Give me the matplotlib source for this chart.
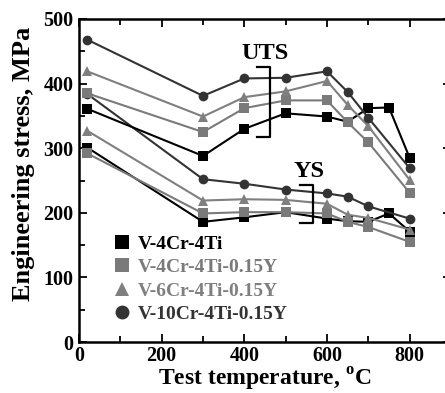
import matplotlib
matplotlib.use('Agg')
import matplotlib.pyplot as plt
from matplotlib.lines import Line2D
from matplotlib.ticker import MultipleLocator

plt.rcParams['font.family'] = 'Liberation Serif'
plt.rcParams['font.weight'] = 'bold'
plt.rcParams['axes.labelweight'] = 'bold'
plt.rcParams['mathtext.fontset'] = 'custom'
plt.rcParams['mathtext.rm'] = 'Liberation Serif:bold'
plt.rcParams['mathtext.bf'] = 'Liberation Serif:bold'

# alloys and their styles
alloys = ['V-4Cr-4Ti', 'V-4Cr-4Ti-0.15Y', 'V-6Cr-4Ti-0.15Y', 'V-10Cr-4Ti-0.15Y']
colors = ['#000000', '#7a7a7a', '#7f7f7f', '#333333']
markers = ['s', 's', '^', 'o']

# test temperatures (C)
temp_a = [20, 300, 400, 500, 600, 650, 700, 750, 800]   # V-4Cr-4Ti
temp_b = [20, 300, 400, 500, 600, 650, 700, 800]        # Y-doped alloys

# ultimate tensile strength, MPa
uts_4cr = [361, 288, 330, 354, 349, 341, 362, 363, 285]
uts_4cr_y = [385, 325, 362, 374, 374, 340, 309, 231]
uts_6cr_y = [419, 349, 379, 388, 404, 367, 334, 251]
uts_10cr_y = [468, 381, 408, 409, 419, 387, 347, 269]

# yield strength, MPa
ys_4cr = [301, 186, 193, 201, 191, 187, 186, 199, 171]
ys_4cr_y = [292, 199, 201, 201, 199, 186, 178, 155]
ys_6cr_y = [327, 219, 221, 220, 214, 197, 192, 174]
ys_10cr_y = [384, 252, 245, 236, 230, 225, 210, 191]

uts = [uts_4cr, uts_4cr_y, uts_6cr_y, uts_10cr_y]
ys = [ys_4cr, ys_4cr_y, ys_6cr_y, ys_10cr_y]
temps = [temp_a, temp_b, temp_b, temp_b]

fig = plt.figure(figsize=(4.45, 3.93), dpi=100)
ax = fig.add_axes([79 / 445, 51 / 393, 372 / 445, 323 / 393])

# draw the lower (YS) set first, then UTS
for group in (ys, uts):
    for i in range(4):
        ax.plot(temps[i], group[i], color=colors[i], marker=markers[i],
                markersize=7.5 if markers[i] != 'o' else 7, lw=1.5,
                markeredgewidth=0)

# brackets and labels
ax.plot([430, 461, 461, 430], [425, 425, 318, 318], color='black', lw=1.6)
ax.text(449, 447, 'UTS', ha='center', va='center', fontsize=17.5)
ax.plot([534, 565, 565, 534], [243, 243, 184, 184], color='black', lw=1.6)
ax.text(556, 264, 'YS', ha='center', va='center', fontsize=17.5)

ax.set_xlim(0, 900)
ax.set_ylim(0, 500)
ax.set_xticks([0, 200, 400, 600, 800])
ax.xaxis.set_minor_locator(MultipleLocator(100))
ax.yaxis.set_major_locator(MultipleLocator(100))
ax.yaxis.set_minor_locator(MultipleLocator(50))
ax.tick_params(which='both', direction='in', top=True, right=True,
               labelsize=14.5, width=1.3, pad=4)
ax.tick_params(axis='x', pad=3)
ax.tick_params(which='major', length=6)
ax.tick_params(which='minor', length=4)
for s in ax.spines.values():
    s.set_linewidth(1.8)

ax.set_xlabel('Test temperature, $^{\\mathbf{o}}$C', fontsize=17, labelpad=-0.5)
ax.set_ylabel('Engineering stress, MPa', fontsize=19, labelpad=2)
ax.yaxis.set_label_coords(-0.117, 0.55)

handles = [Line2D([], [], color=colors[i], marker=markers[i], ls='none',
                  markersize=10, markeredgewidth=0) for i in range(4)]
leg = ax.legend(handles, alloys, loc='upper left', frameon=False,
                bbox_to_anchor=(0.075, 0.355), fontsize=14, handlelength=0.8,
                handletextpad=0.4, labelspacing=0.3, borderaxespad=0)
for t, c in zip(leg.get_texts(), colors):
    t.set_color(c)

fig.savefig('out.png', dpi=100)
